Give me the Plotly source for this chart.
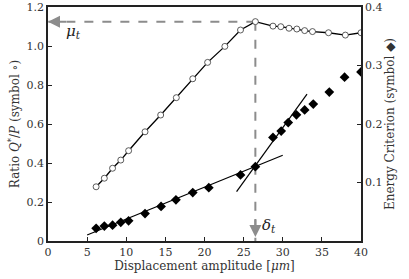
import plotly.graph_objects as go

# --- data ---
disp_ratio = [6.15, 7.2, 8.25, 9.3, 10.3, 12.4, 14.4, 16.4, 18.5, 20.4, 22.6, 24.6,
              26.5, 28.75, 29.75, 30.8, 31.8, 32.8, 33.8, 35.85, 38.0, 40.0]
ratio = [0.278, 0.322, 0.373, 0.415, 0.463, 0.56, 0.646, 0.735, 0.832, 0.916, 0.998, 1.082,
         1.125, 1.102, 1.099, 1.091, 1.087, 1.079, 1.074, 1.068, 1.056, 1.068]

disp_energy = [6.15, 7.2, 8.25, 9.3, 10.3, 12.4, 14.45, 16.35, 18.5, 20.55, 24.6, 26.5,
               28.75, 29.8, 30.7, 31.75, 32.8, 33.9, 35.95, 37.9, 40.0]
energy = [0.0217, 0.0255, 0.027, 0.032, 0.0345, 0.047, 0.059, 0.0705, 0.0827, 0.0912, 0.113, 0.127,
          0.177, 0.188, 0.2025, 0.2157, 0.224, 0.234, 0.2545, 0.28, 0.289]

fit_low_x = [5.0, 30.0]
fit_low_y = [0.0103, 0.1466]
fit_high_x = [24.1, 33.1]
fit_high_y = [0.0844, 0.251]

mu_t = 1.125
delta_t = 26.5

x_ticks = [0, 5, 10, 15, 20, 25, 30, 35, 40]
y_ticks = [0, 0.2, 0.4, 0.6, 0.8, 1.0, 1.2]
y_ticktext = ["0", "0.2", "0.4", "0.6", "0.8", "1.0", "1.2"]
y2_ticks = [0.1, 0.2, 0.3, 0.4]
y2_ticktext = ["0.1", "0.2", "0.3", "0.4"]

FONT = "DejaVu Serif"
GRAY = "#8c8c8c"

fig = go.Figure()

# dashed guide lines
fig.add_trace(go.Scatter(x=[delta_t, 0], y=[mu_t, mu_t], mode="lines",
                         line=dict(color=GRAY, width=2, dash="dash"), yaxis="y",
                         hoverinfo="skip", showlegend=False))
fig.add_trace(go.Scatter(x=[delta_t, delta_t], y=[mu_t, 0], mode="lines",
                         line=dict(color=GRAY, width=2, dash="dash"), yaxis="y",
                         hoverinfo="skip", showlegend=False))

# ratio (open circles)
fig.add_trace(go.Scatter(x=disp_ratio, y=ratio, mode="lines+markers",
                         line=dict(color="black", width=1.3),
                         marker=dict(symbol="circle", size=6, color="white",
                                     line=dict(color="#333333", width=0.8)),
                         yaxis="y", showlegend=False))

# fit lines
fig.add_trace(go.Scatter(x=fit_low_x, y=fit_low_y, mode="lines",
                         line=dict(color="black", width=1.2), yaxis="y2", showlegend=False))
fig.add_trace(go.Scatter(x=fit_high_x, y=fit_high_y, mode="lines",
                         line=dict(color="black", width=1.2), yaxis="y2", showlegend=False))

# energy (filled diamonds)
fig.add_trace(go.Scatter(x=disp_energy, y=energy, mode="markers",
                         marker=dict(symbol="diamond", size=7.5, color="black"),
                         yaxis="y2", showlegend=False))

axis_common = dict(showgrid=False, zeroline=False, showline=True, linecolor="#222222",
                   linewidth=1.5, ticks="inside", ticklen=4, tickwidth=1.2,
                   tickcolor="#222222", automargin=False,
                   tickfont=dict(family=FONT, size=11, color="#333333"))

fig.update_layout(
    width=409, height=279,
    margin=dict(l=48, r=48, t=7, b=38, autoexpand=False),
    paper_bgcolor="white", plot_bgcolor="white",
    font=dict(family=FONT, size=12, color="#333333"),
    xaxis=dict(range=[0, 40], tickvals=x_ticks, mirror=True,
               title=dict(text="Displacement amplitude [<i>μm</i>]", standoff=0,
                          font=dict(family=FONT, size=12)),
               **axis_common),
    yaxis=dict(range=[0, 1.2], tickvals=y_ticks, ticktext=y_ticktext,
               title=dict(text="Ratio <i>Q</i><sup>*</sup>/<i>P</i> (symbol ∘)", standoff=4,
                          font=dict(family=FONT, size=12)),
               **axis_common),
    yaxis2=dict(range=[0, 0.4], tickvals=y2_ticks, ticktext=y2_ticktext,
                overlaying="y", side="right",
                title=dict(text="Energy Criterion (symbol ◆)", standoff=4,
                           font=dict(family=FONT, size=12)),
                **axis_common),
    annotations=[
        dict(x=0, y=mu_t, xref="x", yref="y", ax=2.5, ay=mu_t, axref="x", ayref="y",
             text="", showarrow=True, arrowhead=2, arrowsize=1.2, arrowwidth=2,
             arrowcolor=GRAY, standoff=0),
        dict(x=delta_t, y=0.02, xref="x", yref="y", ax=delta_t, ay=0.12, axref="x", ayref="y",
             text="", showarrow=True, arrowhead=2, arrowsize=1.2, arrowwidth=2,
             arrowcolor=GRAY, standoff=0),
        dict(x=3.2, y=1.075, xref="x", yref="y", text="<i>μ</i><sub><i>t</i></sub>",
             showarrow=False, font=dict(family=FONT, size=15, color="#222222")),
        dict(x=28.2, y=0.08, xref="x", yref="y", text="<i>δ</i><sub><i>t</i></sub>",
             showarrow=False, font=dict(family=FONT, size=15, color="#222222")),
    ],
)

fig.write_html("out.html", config={"displayModeBar": False},
               post_script="document.body.style.margin='0';document.body.style.overflow='hidden';")
